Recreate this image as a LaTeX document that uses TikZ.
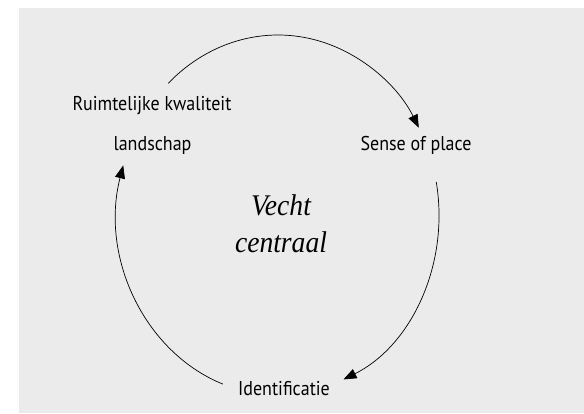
\documentclass[tikz,border=0pt]{standalone}
\usepackage{fontspec}
\setmainfont{PT Sans}
\newfontfamily\sansn{PT Sans}[FakeStretch=0.9]
\newfontfamily\serifit{Liberation Serif}[FakeStretch=0.92]
\usetikzlibrary{arrows.meta,calc}
\definecolor{bg}{HTML}{EBEBEB}
\begin{document}
\begin{tikzpicture}[x=1pt,y=1pt,
  lbl/.style={font=\sansn\fontsize{20}{24}\selectfont, inner sep=0pt, anchor=base},
  cyc/.style={line width=0.7pt, -{Triangle[length=13pt,width=10pt]}}]
\useasboundingbox (0,0) rectangle (584,413);
\fill[bg] (19,0) rectangle (584,405);
\coordinate (c) at (278,198);
\node[lbl] (rk) at (152,302) {Ruimtelijke kwaliteit};
\node[lbl] (ls) at (152.5,262) {landschap};
\node[lbl] (sp) at (416,262) {Sense of place};
\node[lbl] (id) at (284,18) {Identificatie};
\node[font=\serifit\itshape\fontsize{30}{37}\selectfont, align=center, inner sep=0pt] (vc) at (281,189) {Vecht\\centraal};
\coordinate (s1) at ($(c)+(133:161 and 180)$);
\coordinate (s2) at ($(c)+(10.6:161 and 180)$);
\coordinate (s3) at ($(c)+(250:161 and 180)$);
\draw[cyc] (s1) arc[start angle=133, end angle=29, x radius=161, y radius=180];
\draw[cyc] (s2) arc[start angle=10.6, end angle=-66, x radius=161, y radius=180];
\draw[cyc] (s3) arc[start angle=250, end angle=164, x radius=161, y radius=180];
\end{tikzpicture}
\end{document}
